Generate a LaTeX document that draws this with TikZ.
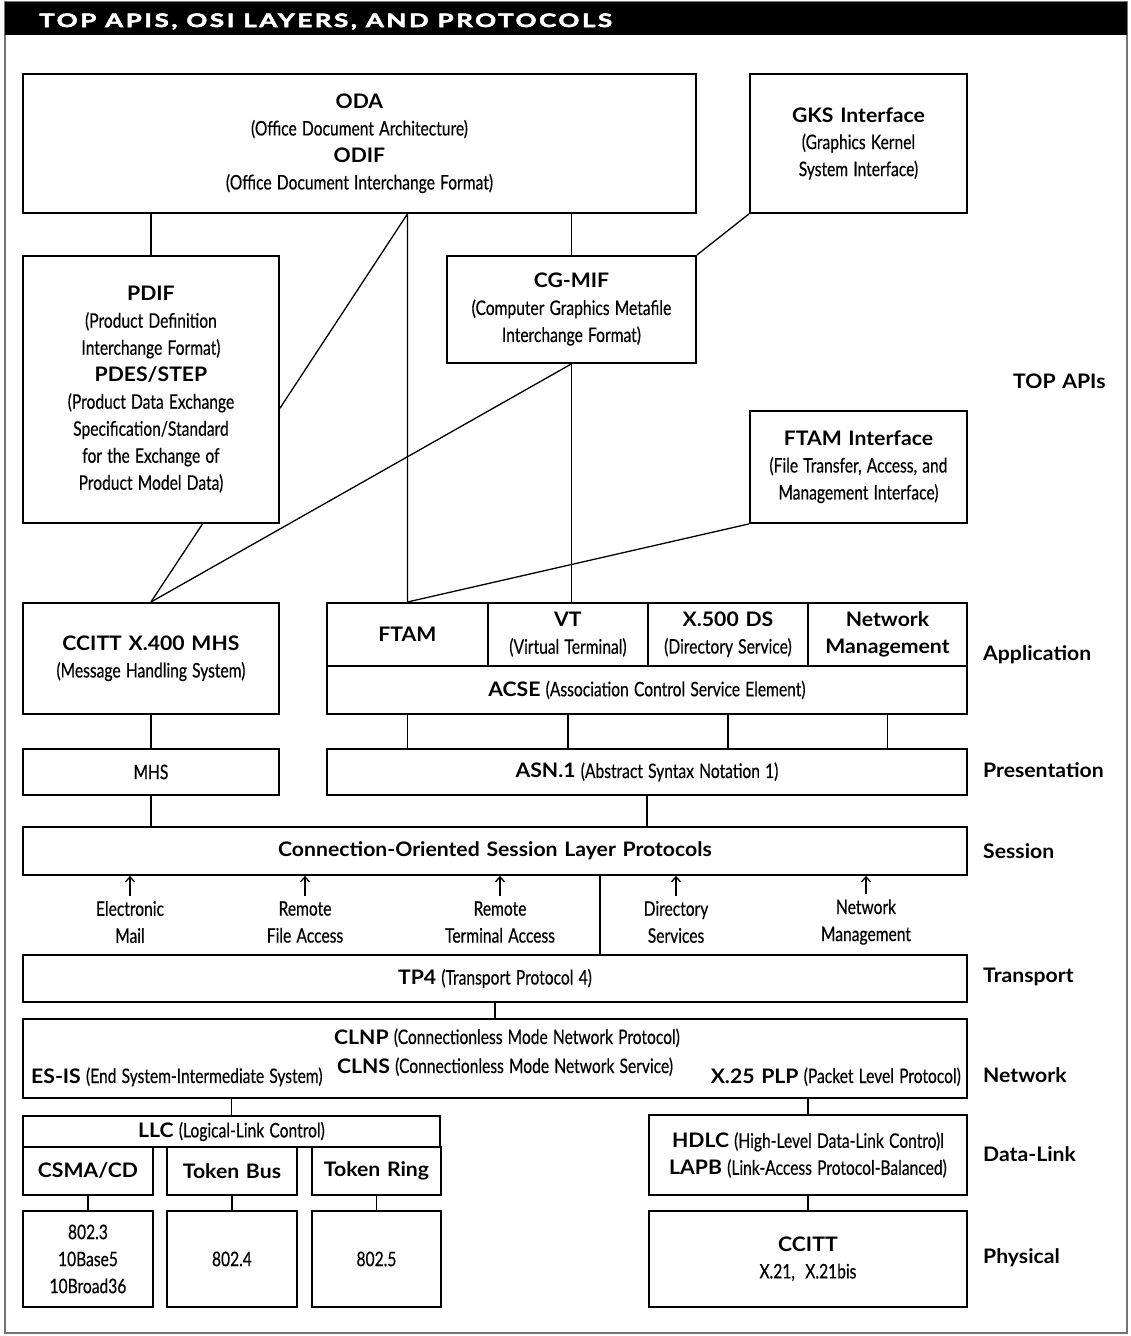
\documentclass[tikz,border=0pt]{standalone}
\usepackage{fontspec}
\setmainfont{Lato}[UprightFeatures={FakeStretch=0.78, FakeBold=0.4}, BoldFeatures={FakeStretch=1.06}, WordSpace=1.3]
\newfontfamily\titlefont{Lato}[FakeStretch=1.4, LetterSpace=14, FakeBold=3]
\usetikzlibrary{arrows.meta,calc}

\begin{document}
\begin{tikzpicture}[x=1pt, y=-1pt, font=\fontsize{20}{27}\selectfont,
    box/.style={draw, line width=1.9pt, anchor=north west, inner sep=2pt, align=center},
    link/.style={line width=1.3pt},
    txt/.style={inner sep=0pt},
    layer/.style={anchor=base west, inner sep=0pt, font=\fontsize{20}{27}\selectfont\bfseries}]
        \useasboundingbox (0,0) rectangle (1130,1336);
        \draw [black!55, line width=2.5pt] (5,2) rectangle (1127,1333);
        \fill (5,2) rectangle (1127,35);
        \node [anchor=base west, inner sep=0pt, text=white, font=\titlefont\bfseries\fontsize{18.5}{20}\selectfont] (title) at (39,27) {TOP APIS, OSI LAYERS, AND PROTOCOLS};

        % top APIs
        \node [box, minimum width=673pt, minimum height=139pt] (oda) at (22,73) {\textbf{ODA}\\(Office Document Architecture)\\\textbf{ODIF}\\(Office Document Interchange Format)};
        \node [box, minimum width=217pt, minimum height=139pt] (gks) at (749,73) {\textbf{GKS Interface}\\(Graphics Kernel\\System Interface)};
        \node [box, minimum width=256pt, minimum height=267pt] (pdif) at (22,255) {\textbf{PDIF}\\(Product Definition\\Interchange Format)\\\textbf{PDES/STEP}\\(Product Data Exchange\\Specification/Standard\\for the Exchange of\\Product Model Data)};
        \node [box, minimum width=249pt, minimum height=107pt] (cgmif) at (446,255) {\textbf{CG-MIF}\\(Computer Graphics Metafile\\Interchange Format)};
        \node [box, minimum width=217pt, minimum height=112pt] (ftamif) at (749,410) {\textbf{FTAM Interface}\\(File Transfer, Access, and\\Management Interface)};
        \node [layer] (lapi) at (1013,388) {TOP APIs};

        % application
        \node [box, minimum width=256pt, minimum height=111pt] (x400) at (22,602) {\textbf{CCITT X.400 MHS}\\(Message Handling System)};
        \node [box, minimum width=161pt, minimum height=63pt] (ftam) at (326,602) {\textbf{FTAM}};
        \node [box, minimum width=160pt, minimum height=63pt] (vt) at (487,602) {\textbf{VT}\\(Virtual Terminal)};
        \node [box, minimum width=160pt, minimum height=63pt] (xds) at (647,602) {\textbf{X.500 DS}\\(Directory Service)};
        \node [box, minimum width=159pt, minimum height=63pt] (nm) at (807,602) {\textbf{Network}\\\textbf{Management}};
        \node [box, minimum width=640pt, minimum height=48pt] (acse) at (326,665) {\textbf{ACSE} (Association Control Service Element)};
        \node [layer] (lapp) at (983,660) {Application};

        % presentation, session
        \node [box, minimum width=256pt, minimum height=46pt] (mhs) at (22,748) {MHS};
        \node [box, minimum width=640pt, minimum height=46pt] (asn) at (326,748) {\textbf{ASN.1} (Abstract Syntax Notation 1)};
        \node [layer] (lpres) at (983,777) {Presentation};
        \node [box, minimum width=944pt, minimum height=48pt] (sess) at (22,826) {\textbf{Connection-Oriented Session Layer Protocols}};
        \node [layer] (lsess) at (983,858) {Session};

        \node [align=center, inner sep=2pt] (mail) at (130,922) {Electronic\\Mail};
        \node [align=center, inner sep=2pt] (rfa) at (305,922) {Remote\\File Access};
        \node [align=center, inner sep=2pt] (rta) at (500,922) {Remote\\Terminal Access};
        \node [align=center, inner sep=2pt] (dirs) at (676,922) {Directory\\Services};
        \node [align=center, inner sep=2pt] (netm) at (866,922) {Network\\Management};
        \foreach \s in {mail,rfa,rta,dirs,netm}
            \draw [link, -{Straight Barb[length=5pt,width=9pt]}, shorten <=3pt] (\s.north) -- (\s.north |- sess.south);

        % transport, network
        \coordinate (split) at (600,0);
        \node [box, minimum width=944pt, minimum height=47pt] (tp) at (22,954) {\textbf{TP4} (Transport Protocol 4)};
        \node [layer] (ltp) at (983,982) {Transport};
        \node [box, minimum width=944pt, minimum height=79pt] (net) at (22,1018) {};
        \node [txt, anchor=base] (clnp) at (507,1044) {\textbf{CLNP} (Connectionless Mode Network Protocol)};
        \node [txt, anchor=base] (clns) at (505,1073) {\textbf{CLNS} (Connectionless Mode Network Service)};
        \node [txt, anchor=base west] (esis) at (31,1083) {\textbf{ES-IS} (End System-Intermediate System)};
        \node [txt, anchor=base east] (x25) at (961,1083) {\textbf{X.25 PLP} (Packet Level Protocol)};
        \node [layer] (lnet) at (983,1082) {Network};

        % data-link, physical
        \node [box, minimum width=417pt, minimum height=31pt] (llc) at (22,1115) {\textbf{LLC} (Logical-Link Control)};
        \node [box, minimum width=130pt, minimum height=48pt] (csma) at (22,1146) {\textbf{CSMA/CD}};
        \node [box, minimum width=130pt, minimum height=48pt] (tbus) at (166,1146) {\textbf{Token Bus}};
        \node [box, minimum width=129pt, minimum height=48pt] (tring) at (311,1146) {\textbf{Token Ring}};
        \node [box, minimum width=318pt, minimum height=80pt] (hdlc) at (648,1114) {\textbf{HDLC} (High-Level Data-Link Contro)l\\\textbf{LAPB} (Link-Access Protocol-Balanced)};
        \node [layer] (ldl) at (983,1161) {Data-Link};
        \node [box, minimum width=130pt, minimum height=96pt] (e3) at (22,1210) {802.3\\10Base5\\10Broad36};
        \node [box, minimum width=130pt, minimum height=96pt] (e4) at (166,1210) {802.4};
        \node [box, minimum width=129pt, minimum height=96pt] (e5) at (311,1210) {802.5};
        \node [box, minimum width=318pt, minimum height=96pt] (ccitt) at (648,1210) {\textbf{CCITT}\\X.21,\ \ X.21bis};
        \node [layer] (lphy) at (983,1263) {Physical};

        % connectors
        \draw [link] (pdif.north) -- (pdif.north |- oda.south);
        \draw [link] (ftam.north) -- (ftam.north |- oda.south) -- ($(pdif.north east)!.57!(pdif.south east)$);
        \draw [link] (cgmif.north) -- (cgmif.north |- oda.south);
        \draw [link] (gks.south west) -- (cgmif.north east);
        \draw [link] ($(pdif.south west)!.7!(pdif.south east)$) -- (x400.north);
        \draw [link] (cgmif.south) -- (x400.north);
        \draw [link] (cgmif.south) -- (cgmif.south |- vt.north);
        \draw [link] (ftamif.south west) -- (ftam.north);
        \foreach \c in {ftam,vt,xds,nm}
            \draw [link] (\c.south |- acse.south) -- (\c.south |- asn.north);
        \draw [link] (x400.south) -- (mhs.north);
        \draw [link] (mhs.south) -- (mhs.south |- sess.north);
        \draw [link] (asn.south) -- (asn.south |- sess.north);
        \draw [link] (split |- sess.south) -- (split |- tp.north);
        \draw [link] (tp.south) -- (net.north);
        \draw [link] (llc.north) -- (llc.north |- net.south);
        \draw [link] (hdlc.north) -- (hdlc.north |- net.south);
        \draw [link] (csma.south) -- (e3.north);
        \draw [link] (tbus.south) -- (e4.north);
        \draw [link] (tring.south) -- (e5.north);
        \draw [link] (hdlc.south) -- (ccitt.north);
\end{tikzpicture}
\end{document}
